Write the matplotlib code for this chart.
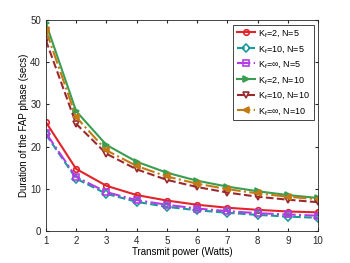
import matplotlib
matplotlib.use("Agg")
import matplotlib.pyplot as plt

plt.rcParams['font.family'] = ['Liberation Sans', 'DejaVu Sans']
plt.rcParams['mathtext.fontset'] = 'custom'
plt.rcParams['mathtext.rm'] = 'Liberation Sans'
plt.rcParams['mathtext.it'] = 'Liberation Sans'

power = [1, 2, 3, 4, 5, 6, 7, 8, 9, 10]
k2_n5 = [25.8, 14.7, 10.7, 8.5, 7.2, 6.2, 5.5, 5.0, 4.6, 4.4]
k10_n5 = [22.9, 12.4, 8.8, 6.9, 5.7, 4.9, 4.3, 3.8, 3.4, 3.1]
kinf_n5 = [23.2, 12.8, 9.2, 7.3, 6.2, 5.3, 4.7, 4.2, 3.9, 3.6]
k2_n10 = [49.3, 28.4, 20.4, 16.4, 13.8, 11.9, 10.5, 9.4, 8.5, 7.8]
k10_n10 = [45.2, 25.4, 18.3, 14.6, 12.1, 10.4, 9.1, 8.1, 7.4, 6.8]
kinf_n10 = [47.6, 27.0, 19.1, 15.4, 12.9, 11.2, 9.9, 8.9, 8.1, 7.5]

labels = [r'K$_{\rm f}$=2, N=5', r'K$_{\rm f}$=10, N=5', r'K$_{\rm f}$=$\infty$, N=5',
          r'K$_{\rm f}$=2, N=10', r'K$_{\rm f}$=10, N=10', r'K$_{\rm f}$=$\infty$, N=10']

fig = plt.figure(figsize=(3.5, 2.63), dpi=100)
ax = fig.add_axes([0.131, 0.122, 0.778, 0.802])

series = [
    (k2_n5, '#e2242a', '-', 'o'),
    (k10_n5, '#1a9a9a', '--', 'D'),
    (kinf_n5, '#b43ce6', '-.', 's'),
    (k2_n10, '#3a9e50', '-', '>'),
    (k10_n10, '#9a2a2e', '--', 'v'),
    (kinf_n10, '#c47a14', '-.', '<'),
]
for (vals, c, ls, m), lab in zip(series, labels):
    ax.plot(power, vals, color=c, linestyle=ls, marker=m, markersize=4,
            markerfacecolor='none' if m in ('o', 'D', 's', 'v') else c,
            markeredgewidth=1.2, linewidth=1.5, label=lab)

ax.set_xlim(1, 10)
ax.set_ylim(0, 50)
ax.set_xticks(power)
ax.set_yticks([0, 10, 20, 30, 40, 50])
ax.tick_params(direction='in', labelsize=7, length=2.5, top=True, right=True, colors='#262626')
for s in ax.spines.values():
    s.set_color('#262626')
    s.set_linewidth(0.6)
ax.set_xlabel('Transmit power (Watts)', fontsize=7, labelpad=1)
ax.set_ylabel('Duration of the FAP phase (secs)', fontsize=7, labelpad=1)
leg = ax.legend(loc='upper right', fontsize=6.5, handlelength=2.0, borderpad=0.4,
                labelspacing=0.5, handletextpad=0.4, fancybox=False, framealpha=1,
                edgecolor='#262626', borderaxespad=0.5)
leg.get_frame().set_linewidth(0.6)

fig.savefig('out.png', dpi=100)
